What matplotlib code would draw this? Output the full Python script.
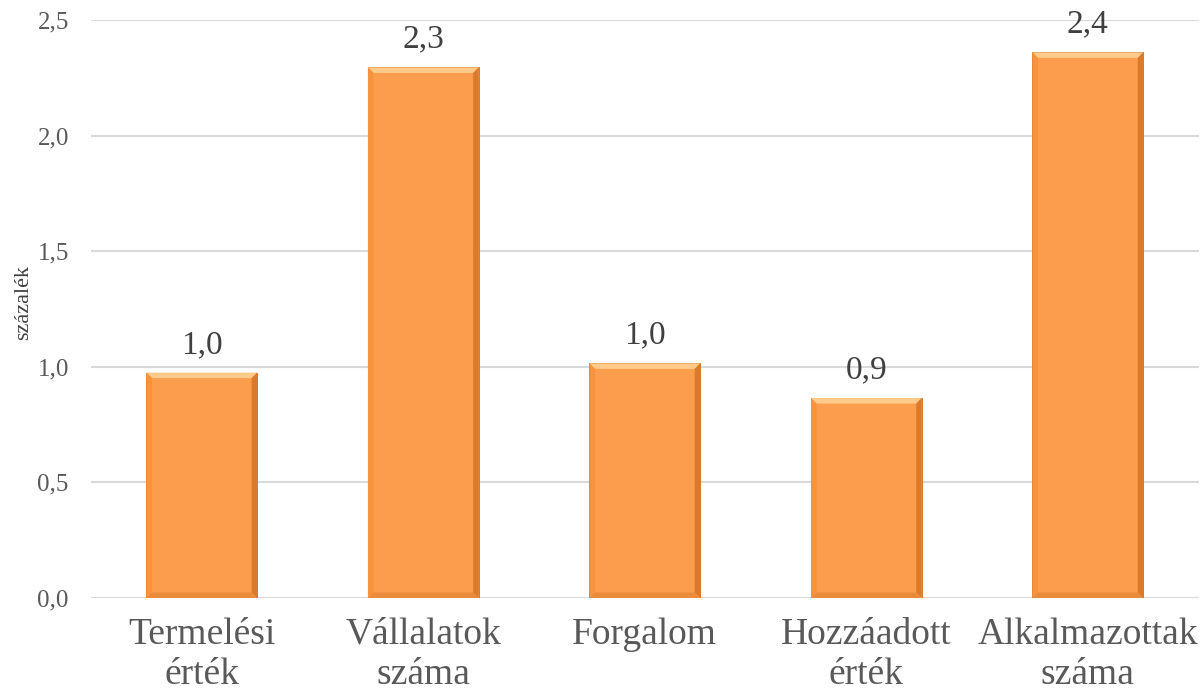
import matplotlib.pyplot as plt
from matplotlib.patches import Polygon

categories = ["Termelési\nérték", "Vállalatok\nszáma", "Forgalom", "Hozzáadott\nérték", "Alkalmazottak\nszáma"]
values = [0.975, 2.295, 1.015, 0.865, 2.36]
value_labels = ["1,0", "2,3", "1,0", "0,9", "2,4"]
yticks = [0.0, 0.5, 1.0, 1.5, 2.0, 2.5]
ytick_labels = ["0,0", "0,5", "1,0", "1,5", "2,0", "2,5"]

plt.rcParams['font.family'] = ['Liberation Serif', 'DejaVu Serif']

fig = plt.figure(figsize=(12.01, 7.00), dpi=100)
ax = fig.add_axes([0.0758, 0.1457, 0.9222, 0.8257])

x = list(range(len(categories)))
width = 0.5
ax.bar(x, values, width=width, color="#FB9D4C", edgecolor="#C9701F", linewidth=0.6, zorder=3)

# bevel look
dx, dy = 0.025, 0.024
for xi, v in zip(x, values):
    l, r = xi - width / 2, xi + width / 2
    ax.add_patch(Polygon([(l, v), (r, v), (r - dx, v - dy), (l + dx, v - dy)],
                         closed=True, facecolor="#FFCB8A", edgecolor="none", zorder=4))
    ax.add_patch(Polygon([(l, v), (l + dx, v - dy), (l + dx, dy), (l, 0)],
                         closed=True, facecolor="#F7923E", edgecolor="none", zorder=4))
    ax.add_patch(Polygon([(r, v), (r - dx, v - dy), (r - dx, dy), (r, 0)],
                         closed=True, facecolor="#DC7A2C", edgecolor="none", zorder=4))
    ax.add_patch(Polygon([(l, 0), (r, 0), (r - dx, dy), (l + dx, dy)],
                         closed=True, facecolor="#EC8A3C", edgecolor="none", zorder=4))
    ax.text(xi, v + 0.055, value_labels[xi], ha="center", va="bottom",
            fontsize=24, color="#404040", zorder=5)

ax.set_xlim(-0.5, len(categories) - 0.5)
ax.set_ylim(0, 2.5)
ax.set_yticks(yticks)
ax.set_yticklabels(ytick_labels, fontsize=18, color="#595959")
ax.set_xticks(x)
ax.set_xticklabels(categories, fontsize=27, color="#595959", linespacing=1.22)
ax.tick_params(axis="x", length=0, pad=14)
ax.tick_params(axis="y", length=0, pad=16)
ax.yaxis.grid(True, color="#D9D9D9", linewidth=1.5, zorder=0)
for s in ax.spines.values():
    s.set_visible(False)
ax.set_ylabel("százalék", fontsize=16, color="#404040")
ax.yaxis.set_label_coords(-0.052, 0.512)

fig.savefig("out.png", dpi=100)
